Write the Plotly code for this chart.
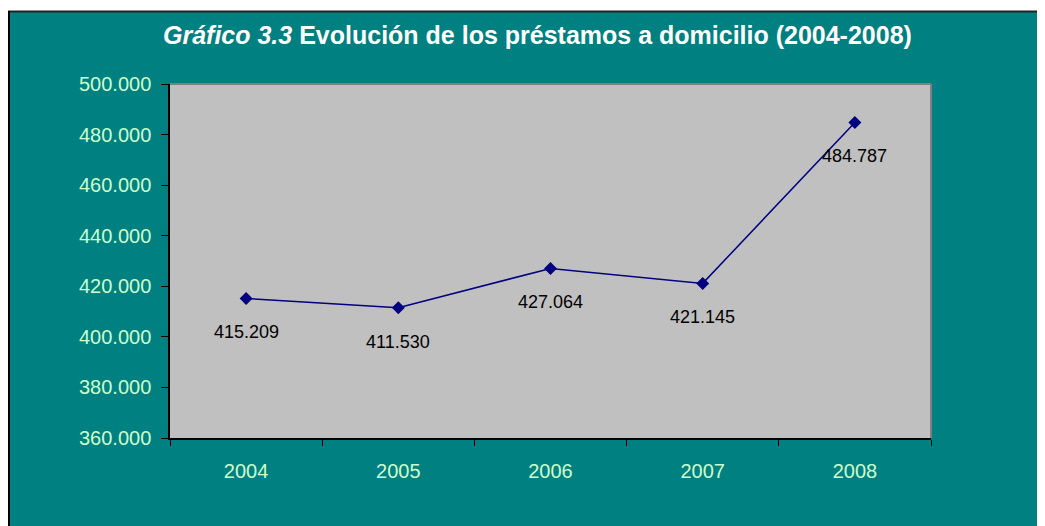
import plotly.graph_objects as go

years = ["2004", "2005", "2006", "2007", "2008"]
prestamos = [415209, 411530, 427064, 421145, 484787]
y_ticks = [360000, 380000, 400000, 420000, 440000, 460000, 480000, 500000]

TEAL = "#008080"
PLOT_BG = "#C0C0C0"
TICK_COLOR = "#CCFFCC"
NAVY = "#000080"
FONT = "Liberation Sans, Arial, sans-serif"

# page has an 8px body margin; the figure starts at (8, 8)
W, H = 1037, 518
L, R, T, B = 162, W - 923, 76, H - 430

def fmt(v):
    return f"{v:,}".replace(",", ".")

fig = go.Figure()
fig.add_trace(go.Scatter(
    x=years, y=prestamos, mode="lines+markers",
    line=dict(color=NAVY, width=1.5),
    marker=dict(symbol="diamond", size=10, color=NAVY),
    hoverinfo="skip", showlegend=False,
))

annotations = []
for i, yv in enumerate(prestamos):
    annotations.append(dict(
        x=i, y=yv, xref="x", yref="y", text=fmt(yv), showarrow=False,
        yshift=-34, font=dict(family=FONT, size=18, color="black"),
    ))

pw = W - L - R
ph = H - T - B

def px_x(p):
    return (p - L) / pw

def px_y(p):
    return (H - B - p) / ph

shapes = [
    # white strip at top
    dict(type="rect", xref="paper", yref="paper", x0=px_x(-5), x1=px_x(W + 5),
         y0=px_y(3), y1=px_y(-5), fillcolor="white", line=dict(width=0), layer="above"),
    # black frame of the chart area
    dict(type="line", xref="paper", yref="paper", x0=px_x(0), x1=px_x(W + 5),
         y0=px_y(3.5), y1=px_y(3.5), line=dict(color="#222222", width=2), layer="above"),
    dict(type="line", xref="paper", yref="paper", x0=px_x(1), x1=px_x(1),
         y0=px_y(3), y1=px_y(H + 5), line=dict(color="black", width=2), layer="above"),
    # gray plot-area border (top and right)
    dict(type="line", xref="paper", yref="paper", x0=0, x1=1, y0=1, y1=1,
         line=dict(color="#808080", width=2), layer="above"),
    dict(type="line", xref="paper", yref="paper", x0=1, x1=1, y0=0, y1=1,
         line=dict(color="#808080", width=2), layer="above"),
]

annotations.append(dict(
    xref="paper", yref="paper", x=px_x(529), y=px_y(27), xanchor="center", yanchor="middle",
    showarrow=False,
    text="<b><i>Gráfico 3.3</i> Evolución de los préstamos a domicilio (2004-2008)</b>",
    font=dict(family=FONT, size=25, color="white"),
))

fig.update_layout(
    width=W, height=H,
    margin=dict(l=L, r=R, t=T, b=B, autoexpand=False),
    paper_bgcolor=TEAL, plot_bgcolor=PLOT_BG,
    separators=",.",
    font=dict(family=FONT),
    shapes=shapes, annotations=annotations,
    xaxis=dict(
        type="category", range=[-0.5, 4.5], showgrid=False, zeroline=False,
        showline=True, linecolor="black", linewidth=1.5,
        ticks="outside", tickson="boundaries", ticklen=6, tickcolor="black", tickwidth=1,
        tickfont=dict(family=FONT, size=20, color=TICK_COLOR),
        ticklabelstandoff=14,
    ),
    yaxis=dict(
        range=[360000, 500000], tickvals=y_ticks,
        ticktext=[fmt(v) for v in y_ticks],
        showgrid=False, zeroline=False,
        showline=True, linecolor="black", linewidth=1.5,
        ticks="outside", ticklen=7, tickcolor="black", tickwidth=1,
        tickfont=dict(family=FONT, size=20, color=TICK_COLOR),
        ticklabelstandoff=6,
    ),
)

fig.write_html("out.html")
